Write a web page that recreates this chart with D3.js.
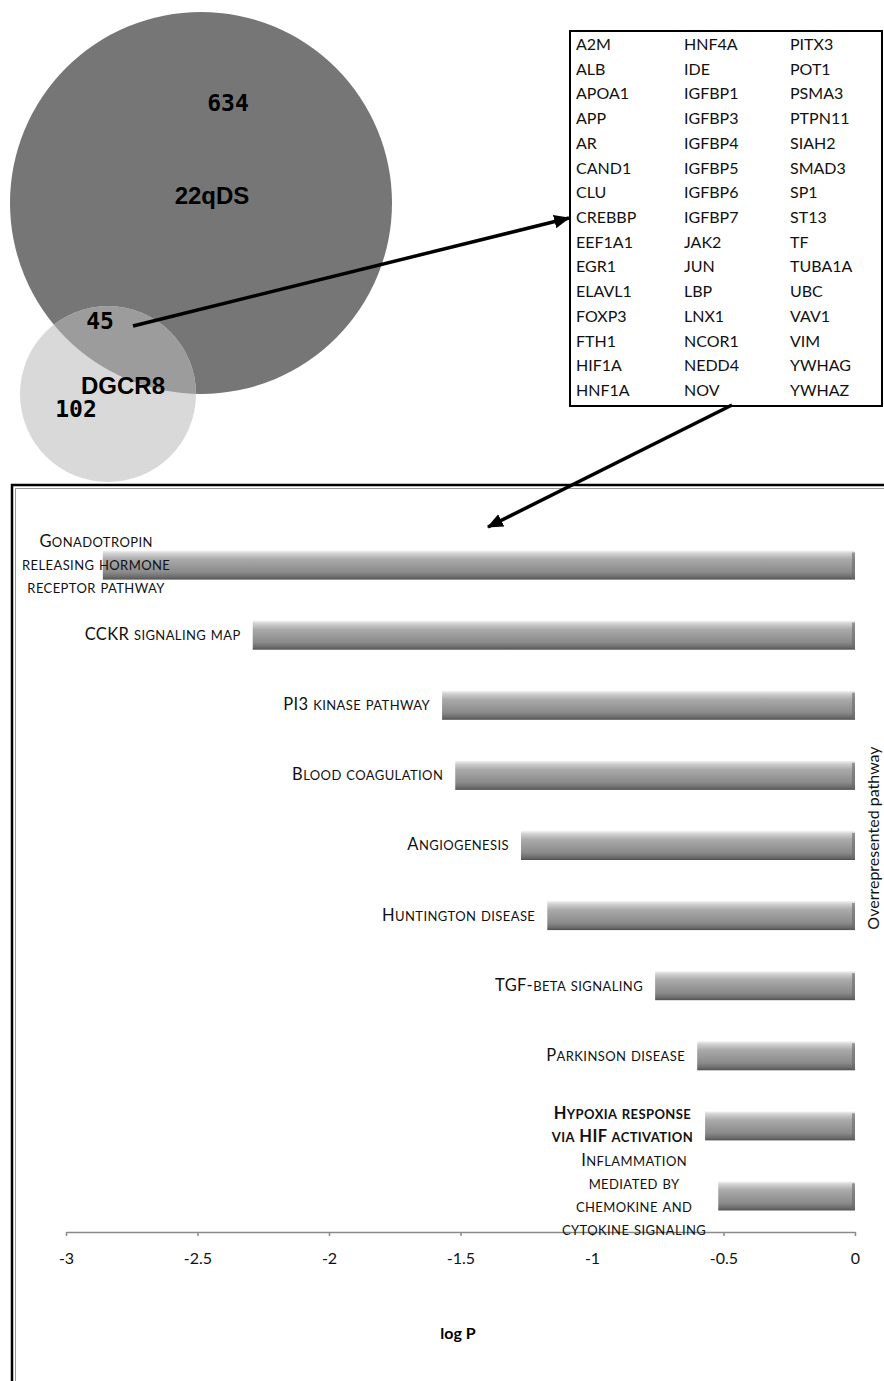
<!DOCTYPE html>
<html>
<head>
<meta charset="utf-8">
<script src="https://cdn.jsdelivr.net/npm/d3@7"></script>
<style>
  html, body { margin: 0; padding: 0; background: #fff; }
  svg { display: block; }
  .gene { font-family: Lato, "Open Sans", sans-serif; font-size: 16px; fill: #111; }
  .plabel { font-family: Lato, "Open Sans", sans-serif; fill: #111; letter-spacing: 0.4px; }
  .tick text { font-family: Lato, "Open Sans", sans-serif; font-size: 16px; fill: #111; }
</style>
</head>
<body>
<div id="chart"></div>
<script>
// -- Venn counts ----------------------------------------------
const vennNames = ["22qDS", "DGCR8"];
const vennOnly = [634, 102];
const vennShared = 45;

// -- Shared genes (column-major, 15 per column) ---------------
const genes = [
  "A2M", "ALB", "APOA1", "APP", "AR", "CAND1", "CLU", "CREBBP", "EEF1A1", "EGR1",
  "ELAVL1", "FOXP3", "FTH1", "HIF1A", "HNF1A",
  "HNF4A", "IDE", "IGFBP1", "IGFBP3", "IGFBP4", "IGFBP5", "IGFBP6", "IGFBP7", "JAK2", "JUN",
  "LBP", "LNX1", "NCOR1", "NEDD4", "NOV",
  "PITX3", "POT1", "PSMA3", "PTPN11", "SIAH2", "SMAD3", "SP1", "ST13", "TF", "TUBA1A",
  "UBC", "VAV1", "VIM", "YWHAG", "YWHAZ"
];

// -- Pathway enrichment ---------------------------------------
const pathways = [
  ["Gonadotropin", "releasing hormone", "receptor pathway"],
  ["CCKR signaling map"],
  ["PI3 kinase pathway"],
  ["Blood coagulation"],
  ["Angiogenesis"],
  ["Huntington disease"],
  ["TGF-beta signaling"],
  ["Parkinson disease"],
  ["Hypoxia response", "via HIF activation"],
  ["Inflammation", "mediated by", "chemokine and", "cytokine signaling"]
];
const logP = [-2.86, -2.29, -1.57, -1.52, -1.27, -1.17, -0.76, -0.60, -0.57, -0.52];
const boldPathway = 8;
const xTicks = [-3, -2.5, -2, -1.5, -1, -0.5, 0];

const W = 884, H = 1381;
const svg = d3.select("#chart").append("svg").attr("width", W).attr("height", H);
const defs = svg.append("defs");

// arrow head
defs.append("marker")
  .attr("id", "arrow")
  .attr("viewBox", "0 -6 14 12")
  .attr("refX", 13).attr("refY", 0)
  .attr("markerUnits", "userSpaceOnUse")
  .attr("markerWidth", 16).attr("markerHeight", 14)
  .attr("orient", "auto")
  .append("path").attr("d", "M0,-6L14,0L0,6Z").attr("fill", "#000");

// bar bevel gradient
const grad = defs.append("linearGradient").attr("id", "barGrad")
  .attr("x1", 0).attr("y1", 0).attr("x2", 0).attr("y2", 1);
[[0, "#f4f4f4"], [0.1, "#d2d2d2"], [0.3, "#aaaaaa"], [0.75, "#8a8a8a"], [0.92, "#6a6a6a"], [1, "#505050"]]
  .forEach(([o, c]) => grad.append("stop").attr("offset", o).attr("stop-color", c));

/* -- Venn diagram ------------------------------------------- */
const big = { cx: 201, cy: 203, r: 191 };
const small = { cx: 108, cy: 394, r: 88 };

defs.append("clipPath").attr("id", "bigClip")
  .append("circle").attr("cx", big.cx).attr("cy", big.cy).attr("r", big.r);

const venn = svg.append("g");
venn.append("circle").attr("cx", big.cx).attr("cy", big.cy).attr("r", big.r).attr("fill", "#767676");
venn.append("circle").attr("cx", small.cx).attr("cy", small.cy).attr("r", small.r).attr("fill", "#d9d9d9");
venn.append("circle").attr("cx", small.cx).attr("cy", small.cy).attr("r", small.r)
  .attr("fill", "#9c9c9c").attr("clip-path", "url(#bigClip)");

const numFont = "'DejaVu Sans Mono', 'Liberation Mono', monospace";
const nameFont = "'Liberation Sans', Arial, sans-serif";
venn.append("text").attr("x", 228).attr("y", 111).attr("text-anchor", "middle")
  .style("font", `bold 23px ${numFont}`).text(vennOnly[0]);
venn.append("text").attr("x", 212).attr("y", 204).attr("text-anchor", "middle")
  .style("font", `bold 24px ${nameFont}`).text(vennNames[0]);
venn.append("text").attr("x", 100).attr("y", 329).attr("text-anchor", "middle")
  .style("font", `bold 23px ${numFont}`).text(vennShared);
venn.append("text").attr("x", 123).attr("y", 394).attr("text-anchor", "middle")
  .style("font", `bold 24px ${nameFont}`).text(vennNames[1]);
venn.append("text").attr("x", 76).attr("y", 417).attr("text-anchor", "middle")
  .style("font", `bold 23px ${numFont}`).text(vennOnly[1]);

/* -- Gene list box ------------------------------------------ */
const box = svg.append("g");
box.append("rect").attr("x", 570).attr("y", 31).attr("width", 312).attr("height", 375)
  .attr("fill", "#fff").attr("stroke", "#000").attr("stroke-width", 2);
const colX = d3.scaleOrdinal().domain([0, 1, 2]).range([576, 684, 790]);
const rowY = d3.scaleLinear().domain([0, 14]).range([50, 396]);
box.selectAll("text.gene").data(genes).join("text")
  .attr("class", "gene")
  .attr("x", (d, i) => colX(Math.floor(i / 15)))
  .attr("y", (d, i) => rowY(i % 15))
  .text(d => d);

// arrow from overlap to list
svg.append("line").attr("x1", 133).attr("y1", 326).attr("x2", 569).attr("y2", 218)
  .attr("stroke", "#000").attr("stroke-width", 3.5).attr("marker-end", "url(#arrow)");

/* -- Bar chart panel ---------------------------------------- */
const panel = svg.append("g");
panel.append("rect").attr("x", 12).attr("y", 485).attr("width", 900).attr("height", 920)
  .attr("fill", "#fff").attr("stroke", "#000").attr("stroke-width", 2.5);
panel.append("rect").attr("x", 15.5).attr("y", 488.5).attr("width", 900).attr("height", 920)
  .attr("fill", "none").attr("stroke", "#999").attr("stroke-width", 1);

const x = d3.scaleLinear().domain([-3, 0]).range([66, 855]);
const y = d3.scaleBand().domain(d3.range(pathways.length))
  .range([530, 1231]).paddingInner(0.585).paddingOuter(0.2925);

const bars = panel.append("g");
bars.selectAll("rect.bar").data(logP).join("rect")
  .attr("class", "bar")
  .attr("x", d => x(d)).attr("y", (d, i) => y(i))
  .attr("width", d => x(0) - x(d)).attr("height", y.bandwidth())
  .attr("fill", "url(#barGrad)");
// darker right cap
bars.selectAll("rect.cap").data(logP).join("rect")
  .attr("class", "cap")
  .attr("x", x(0) - 3).attr("y", (d, i) => y(i) + 2)
  .attr("width", 3).attr("height", y.bandwidth() - 3)
  .attr("fill", "#6a6a6a").attr("opacity", 0.6);

// axis
const axis = panel.append("g").attr("transform", "translate(0,1232)")
  .call(d3.axisBottom(x).tickValues(xTicks).tickSize(4).tickSizeOuter(0).tickFormat(d => String(d)));
axis.select(".domain").attr("stroke", "#8a8a8a").attr("stroke-width", 1.5);
axis.selectAll(".tick line").attr("stroke", "#8a8a8a").attr("stroke-width", 1.5);
axis.selectAll(".tick text").attr("dy", 0).attr("y", 32);

// small-caps by hand: capitals/digits full size, lowercase shrunk
const CAP = 16.5, SMALL = 13;
function smallCaps(tspan, str) {
  const runs = [];
  for (const ch of str) {
    const big = !(ch >= "a" && ch <= "z");
    if (runs.length && runs[runs.length - 1].big === big) runs[runs.length - 1].s += ch;
    else runs.push({ big, s: ch });
  }
  runs.forEach(r => {
    tspan.append("tspan").style("font-size", (r.big ? CAP : SMALL) + "px").text(r.s.toUpperCase());
  });
}

// category labels
const lineH = 23;
const labels = panel.append("g");
pathways.forEach((lines, i) => {
  const cy = y(i) + y.bandwidth() / 2;
  const t = labels.append("text").attr("class", "plabel")
    .style("font-weight", i === boldPathway ? "bold" : null);
  const rows = lines.map((ln, k) => {
    const ts = t.append("tspan").attr("x", 0)
      .attr("y", cy + (k - (lines.length - 1) / 2) * lineH + 5);
    smallCaps(ts, ln);
    return ts;
  });
  const widths = rows.map(r => r.node().getComputedTextLength());
  const bw = d3.max(widths);
  let right = x(logP[i]) - 12;
  if (right - bw < 22) right = 22 + bw;
  const center = right - bw / 2;
  // lines centred inside a block whose right edge sits left of the bar
  rows.forEach((r, k) => {
    const w = widths[k];
    r.attr("x", lines.length > 1 ? center - w / 2 : right - w);
  });
});

// axis titles
panel.append("text").attr("x", 458).attr("y", 1339).attr("text-anchor", "middle")
  .style("font", "bold 16px Lato, 'Open Sans', sans-serif").text("log P");
panel.append("text")
  .attr("transform", "translate(879,838) rotate(-90)")
  .attr("text-anchor", "middle")
  .style("font", "16px Lato, 'Open Sans', sans-serif").attr("fill", "#111")
  .text("Overrepresented pathway");

// arrow from list to chart
svg.append("line").attr("x1", 732).attr("y1", 405).attr("x2", 488).attr("y2", 527)
  .attr("stroke", "#000").attr("stroke-width", 3.5).attr("marker-end", "url(#arrow)");
</script>
</body>
</html>
